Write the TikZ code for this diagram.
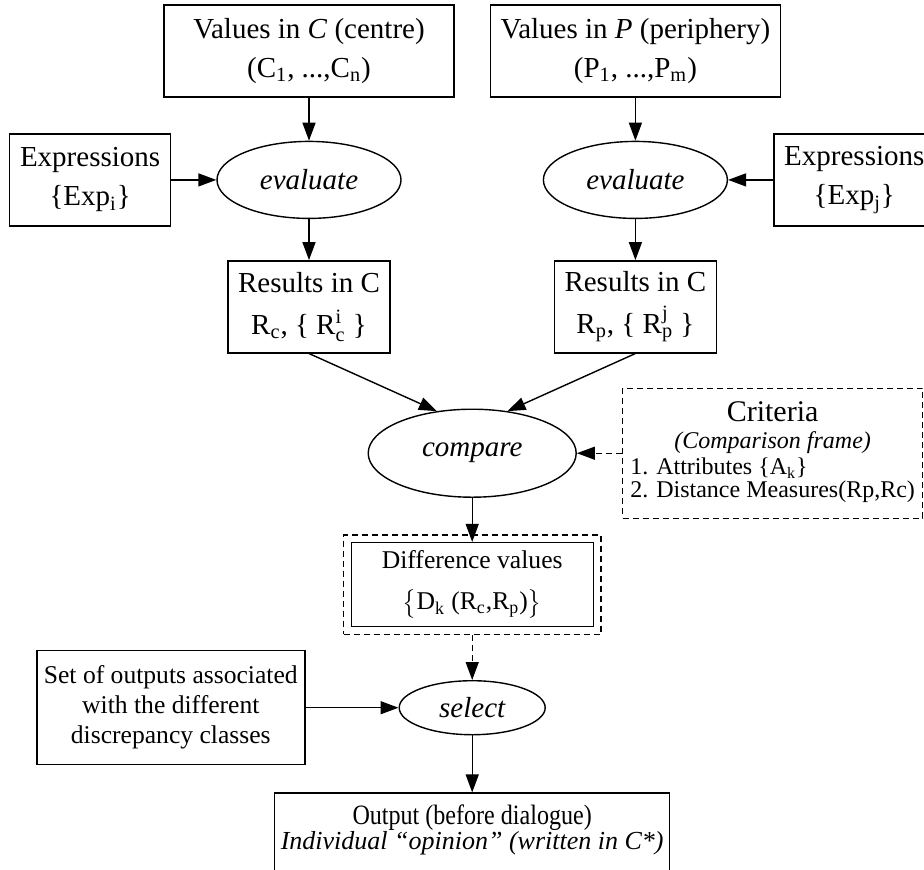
\documentclass[tikz,border=0pt]{standalone}
\usepackage{fontspec}
\setmainfont{Liberation Serif}
\usepackage{amsmath,graphicx}
\usetikzlibrary{shapes.geometric,arrows.meta,positioning,fit,calc}
\tikzset{
  %% plain box
  blk/.style={rectangle,draw,line width=0.7pt,align=center,inner sep=2pt,
    font=\fontsize{14.5}{19.5}\selectfont},
  %% smaller box text
  sblk/.style={blk,font=\fontsize{12.8}{15}\selectfont},
  %% dashed box
  dblk/.style={rectangle,draw,line width=0.7pt,dash pattern=on 3pt off 2pt,
    align=center,inner sep=2pt,font=\fontsize{12}{12.5}\selectfont},
  %% action ellipse
  act/.style={ellipse,draw,line width=0.7pt,inner sep=0pt,
    font=\fontsize{14.5}{17}\selectfont\itshape},
  %% arrows
  arr/.style={-{Triangle[length=9pt,width=6.5pt]},line width=0.7pt},
  darr/.style={arr,dash pattern=on 3pt off 2pt},
}

\begin{document}
\begin{tikzpicture}
  \useasboundingbox (0,0) rectangle (462pt,-434.5pt);

  %% Top row: value sets
  \node[blk,minimum width=145pt,minimum height=46pt] (valc) at (154.5pt,-25.5pt)
    {Values in \textit{C} (centre)\\(C\textsubscript{1}, ...,C\textsubscript{n})};
  \node[blk,minimum width=145pt,minimum height=46pt,right=17.5pt of valc] (valp)
    {Values in \textit{P} (periphery)\\(P\textsubscript{1}, ...,P\textsubscript{m})};

  %% evaluate + expressions
  \node[act,minimum width=92pt,minimum height=38.5pt,below=21.5pt of valc] (evc) {evaluate};
  \node[act,minimum width=92pt,minimum height=38.5pt,below=21.5pt of valp] (evp) {evaluate};
  \node[blk,minimum width=80.5pt,minimum height=46pt,left=22.5pt of evc] (expi)
    {Expressions\\\{Exp\textsubscript{i}\}};
  \node[blk,minimum width=80.5pt,minimum height=46pt,right=22.5pt of evp] (expj)
    {Expressions\\\{Exp\textsubscript{j}\}};

  %% results
  \node[blk,minimum width=81pt,minimum height=46pt,below=20.5pt of evc] (resc)
    {Results in C\\[1.5pt]R\textsubscript{c}, \{ R$_{\text{c}}^{\text{i}}$ \}};
  \node[blk,minimum width=81pt,minimum height=46pt,below=20.5pt of evp] (resp)
    {Results in C\\[1.5pt]R\textsubscript{p}, \{ R$_{\text{p}}^{\text{j}}$ \}};

  %% compare + criteria
  \coordinate (mid) at ($(resc.south)!0.5!(resp.south)$);
  \node[act,minimum width=104pt,minimum height=44pt,below=27.5pt of mid] (cmp) {compare};
  \node[dblk,minimum width=150pt,minimum height=65pt,right=22.5pt of cmp] (crit)
    {{\fontsize{15}{14.5}\selectfont Criteria}\\[1pt]
     \textit{(Comparison frame)}\\[1pt]
     \renewcommand{\arraystretch}{0.88}%
     \begin{tabular}{@{}l@{}}1. Attributes \{A\textsubscript{k}\}\\2. Distance Measures(Rp,Rc)\end{tabular}};

  %% difference values
  \node[sblk,font=\fontsize{12.8}{20.5}\selectfont,minimum width=121pt,minimum height=42pt,
    below=22pt of cmp] (diff)
    {Difference values\\$\bigl\{$D\textsubscript{k} (R\textsubscript{c},R\textsubscript{p})$\bigr\}$};
  \node[dblk,fit=(diff),inner sep=3.5pt] (diffout) {};

  %% select + output
  \node[act,minimum width=73pt,minimum height=27pt,below=22.5pt of diffout] (sel) {select};
  \node[sblk,minimum width=134pt,minimum height=57pt,left=46.5pt of sel] (outs)
    {Set of outputs associated\\with the different\\discrepancy classes};
  \node[blk,font=\fontsize{13}{12.5}\selectfont,minimum width=197.5pt,inner ysep=6pt,
    below=28.5pt of sel] (out)
    {\scalebox{0.86}[1]{\fontsize{14}{12.5}\selectfont Output (before dialogue)}\\
     \textit{Individual ``opinion'' (written in C*)}\rule[-20pt]{0pt}{0pt}};

  %% arrows
  \draw[arr] (valc) -- (evc);
  \draw[arr] (valp) -- (evp);
  \draw[arr] (expi) -- (evc);
  \draw[arr] (expj) -- (evp);
  \draw[arr] (evc) -- (resc);
  \draw[arr] (evp) -- (resp);
  \draw[arr] (resc.south) -- (cmp.130);
  \draw[arr] (resp.south) -- (cmp.50);
  \draw[darr] (crit) -- (cmp);
  \draw[arr] (cmp) -- (diff);
  \draw[darr] (diffout) -- (sel);
  \draw[arr] (outs) -- (sel);
  \draw[arr] (sel) -- (out);

\end{tikzpicture}
\end{document}
